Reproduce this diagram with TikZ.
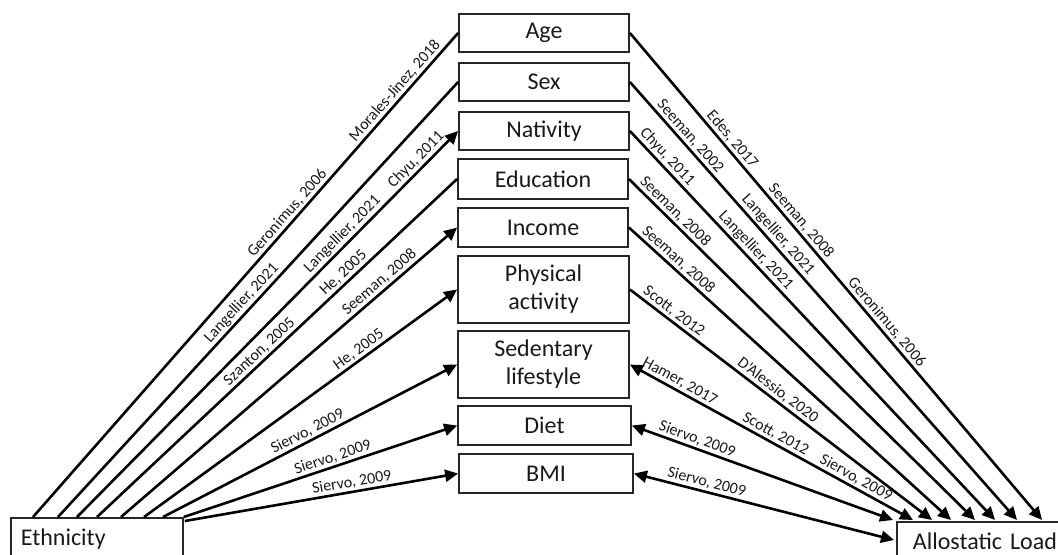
\documentclass[tikz,border=0pt]{standalone}
\usepackage{fontspec}
\setmainfont{Carlito}
\usetikzlibrary{arrows.meta,calc}
\begin{document}
\begin{tikzpicture}[x=0.5pt,y=-0.5pt,
  box/.style={draw=black!85,line width=0.9pt,rectangle,inner sep=0pt,
    font=\fontsize{12pt}{14pt}\selectfont,align=center,text=black!90},
  conn/.style={line width=1.3pt,black},
  tip/.style={-{Triangle[length=6.5pt,width=6pt]}},
  dtip/.style={{Triangle[length=6.5pt,width=6pt]}-{Triangle[length=6.5pt,width=6pt]}},
  lbl/.style={sloped,above,inner sep=0.8pt,font=\fontsize{8pt}{9pt}\selectfont,text=black!90}
]
\useasboundingbox (0,0) rectangle (1058,554);

% middle column
\node[box,minimum width=85pt,minimum height=19pt] (age) at (544,33) {Age};
\node[box,minimum width=85pt,minimum height=19pt] (sex) at (544,82) {Sex};
\node[box,minimum width=85pt,minimum height=19pt] (nat) at (544,131) {Nativity};
\node[box,minimum width=85pt,minimum height=20pt] (edu) at (543,179) {Education};
\node[box,minimum width=85pt,minimum height=19.5pt] (inc) at (543,227.5) {Income};
\node[box,minimum width=85.5pt,minimum height=33.5pt] (phy) at (543.5,289.5) {Physical\\activity};
\node[box,minimum width=85.5pt,minimum height=33.5pt] (sed) at (543.5,364.5) {Sedentary\\lifestyle};
\node[box,minimum width=86.5pt,minimum height=19.5pt] (diet) at (544.5,425.5) {Diet};
\node[box,minimum width=87pt,minimum height=19.5pt] (bmi) at (546,473.5) {BMI};

% end nodes
\node[box,anchor=north west,text width=76pt,inner xsep=5pt,minimum height=21pt,align=left] (eth) at (10,517) {Ethnicity};
\node[box,anchor=north west,text width=84pt,inner xsep=8pt,minimum height=19pt,align=left] (all) at (896,521) {Allostatic Load};

% start points on Ethnicity
\coordinate (e1) at ($(eth.north west)+(23,0)$);
\coordinate (e2) at ($(eth.north west)+(48,0)$);
\coordinate (e3) at ($(eth.north west)+(67,0)$);
\coordinate (e4) at ($(eth.north west)+(87,0)$);
\coordinate (e5) at ($(eth.north west)+(111,0)$);
\coordinate (e6) at ($(eth.north west)+(134,0)$);
\coordinate (e7) at ($(eth.north west)+(153,0)$);
\coordinate (e8) at (eth.north east);
\coordinate (e9) at ($(eth.north east)+(1,4)$);

% end points on Allostatic Load
\coordinate (a1) at ($(all.north west)+(146,-1)$);
\coordinate (a2) at ($(all.north west)+(121,-1)$);
\coordinate (a3) at ($(all.north west)+(99,-1)$);
\coordinate (a4) at ($(all.north west)+(79,-1)$);
\coordinate (a5) at ($(all.north west)+(55,-1)$);
\coordinate (a6) at ($(all.north west)+(36,-1)$);
\coordinate (a7) at ($(all.north west)+(17,-1)$);
\coordinate (a8) at ($(all.north west)+(-3,-1)$);
\coordinate (a9) at ($(all.north west)+(-2,19)$);

% left connectors
\draw[conn] (e1) -- (age.west)
  node[lbl,pos=0.615]{Geronimus, 2006}
  node[lbl,pos=0.868]{Morales-Jinez, 2018};
\draw[conn] (e2) -- (sex.west)
  node[lbl,pos=0.477]{Langellier, 2021};
\draw[conn,tip] (e3) -- (nat.west)
  node[lbl,pos=0.715]{Langellier, 2021}
  node[lbl,pos=0.908]{Chyu, 2011};
\draw[conn] (e4) -- (edu.west)
  node[lbl,pos=0.469]{Szanton, 2005}
  node[lbl,pos=0.702]{He, 2005};
\draw[conn,tip] (e5) -- (inc.west)
  node[lbl,pos=0.787]{Seeman, 2008};
\draw[conn,tip] (e6) -- (phy.west)
  node[lbl,pos=0.703]{He, 2005};
\draw[conn,tip] (e7) -- (sed.west)
  node[lbl,pos=0.506]{Siervo, 2009};
\draw[conn,tip] (e8) -- (diet.west)
  node[lbl,pos=0.556]{Siervo, 2009};
\draw[conn,tip] (e9) -- (bmi.west)
  node[lbl,pos=0.617]{Siervo, 2009};

% right connectors
\draw[conn,tip] (age.east) -- (a1)
  node[lbl,pos=0.231]{Edes, 2017}
  node[lbl,pos=0.398]{Seeman, 2008}
  node[lbl,pos=0.606]{Geronimus, 2006};
\draw[conn,tip] (sex.east) -- (a2)
  node[lbl,pos=0.138]{Seeman, 2002}
  node[lbl,pos=0.364]{Langellier, 2021};
\draw[conn,tip] (nat.east) -- (a3)
  node[lbl,pos=0.083]{Chyu, 2011}
  node[lbl,pos=0.325]{Langellier, 2021};
\draw[conn,tip] (edu.east) -- (a4)
  node[lbl,pos=0.115]{Seeman, 2008};
\draw[conn,tip] (inc.east) -- (a5)
  node[lbl,pos=0.134]{Seeman, 2008};
\draw[conn,tip] (phy.east) -- (a6)
  node[lbl,pos=0.127]{Scott, 2012}
  node[lbl,pos=0.471]{D'Alessio, 2020};
\draw[conn,dtip] (sed.east) -- (a7)
  node[lbl,pos=0.161]{Hamer, 2017}
  node[lbl,pos=0.499]{Scott, 2012}
  node[lbl,pos=0.783]{Siervo, 2009};
\draw[conn,dtip] (diet.east) -- (a8)
  node[lbl,pos=0.238]{Siervo, 2009};
\draw[conn,dtip] (bmi.east) -- (a9)
  node[lbl,pos=0.271]{Siervo, 2009};
\end{tikzpicture}
\end{document}
